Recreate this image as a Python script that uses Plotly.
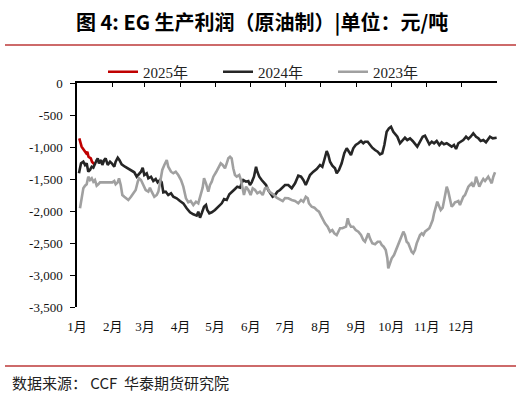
import plotly.graph_objects as go

# ---- data (x = day of year, y = 元/吨) ----
days_2025 = [2, 4, 6, 7, 8, 9, 10, 12, 13, 15, 16]
vals_2025 = [-864, -995, -1047, -1083, -1098, -1073, -1152, -1177, -1230, -1270, -1255]

days_2024 = [1.7, 3.5, 5.5, 7.0, 8.4, 9.8, 11.3, 12.8, 14.2, 15.6, 17.1, 18.0, 19.1, 20.9, 22.0, 23.7,
             24.9, 26.7, 28.7, 30.2, 32.4, 33.6, 35.4, 36.8, 38.8, 41.7, 44.6, 47.5, 49.8, 51.9, 53.9,
             55.6, 57.1, 58.5, 60.6, 62.0, 64.3, 66.3, 68.4, 70.1, 72.1, 73.6, 75.0, 77.1, 79.3, 81.7,
             83.7, 86.6, 89.5, 92.4, 95.3, 98.2, 101.1, 104.0, 105.4, 106.9, 108.4, 110.4, 112.1, 113.2,
             115.0, 117.1, 119.9, 122.8, 125.8, 127.8, 130.1, 132.4, 134.4, 137.3, 139.3, 141.7, 143.1,
             144.5, 146.9, 148.9, 150.3, 151.8, 153.8, 155.6, 156.7, 158.4, 160.5, 162.5, 164.3, 166.2,
             167.7, 170.0, 172.1, 174.1, 176.4, 178.8, 180.8, 183.6, 186.6, 189.5, 192.3, 194.7, 196.7,
             198.8, 200.5, 202.5, 205.4, 208.3, 211.2, 213.2, 214.9, 217.0, 218.4, 219.9, 221.9, 224.2,
             225.7, 227.7, 230.0, 232.3, 234.4, 236.4, 238.1, 240.1, 242.2, 244.5, 246.8, 248.8, 250.3,
             252.6, 254.6, 256.6, 259.0, 261.3, 263.3, 265.3, 267.1, 269.1, 271.1, 272.9, 274.9, 278.4,
             280.7, 283.1, 285.0, 287.0, 289.4, 291.7, 293.7, 295.7, 298.1, 300.4, 302.4, 304.4, 306.2,
             308.3, 310.3, 312.6, 314.9, 316.9, 318.9, 321.3, 323.5, 325.6, 327.6, 329.4, 331.4, 333.5,
             335.7, 338.1, 340.1, 342.1, 344.4, 346.8, 348.8, 350.8, 353.1, 355.4, 357.4, 358.9, 361.3,
             363.3, 364.7]
vals_2024 = [-1411, -1255, -1230, -1281, -1255, -1386, -1359, -1308, -1323, -1255, -1203, -1177, -1255,
             -1203, -1281, -1203, -1177, -1281, -1230, -1255, -1308, -1230, -1167, -1203, -1270, -1308,
             -1344, -1375, -1395, -1464, -1427, -1386, -1323, -1438, -1411, -1489, -1464, -1531, -1500,
             -1552, -1516, -1552, -1708, -1698, -1750, -1723, -1777, -1802, -1844, -1880, -1958, -2020,
             -2052, -2073, -2011, -2105, -2036, -1933, -1906, -1984, -2036, -2020, -1984, -1933, -1880,
             -1813, -1828, -1739, -1698, -1656, -1620, -1636, -1567, -1516, -1542, -1531, -1594, -1552,
             -1464, -1308, -1386, -1464, -1516, -1567, -1594, -1672, -1723, -1777, -1750, -1698, -1672,
             -1636, -1594, -1594, -1645, -1567, -1448, -1464, -1516, -1594, -1516, -1438, -1386, -1344,
             -1281, -1308, -1203, -1063, -1125, -1230, -1292, -1333, -1411, -1359, -1255, -1098, -1020,
             -1073, -1125, -1020, -969, -942, -906, -942, -917, -917, -969, -1011, -1047, -1073, -1114,
             -1098, -969, -761, -708, -683, -761, -839, -942, -891, -855, -891, -864, -906, -958, -995,
             -917, -839, -823, -891, -958, -917, -942, -906, -969, -927, -958, -942, -969, -995, -969,
             -1031, -942, -917, -891, -839, -875, -839, -786, -839, -864, -906, -891, -927, -875, -839,
             -864, -864, -855]

days_2023 = [2.6, 4.1, 5.5, 7.0, 8.4, 9.8, 11.3, 12.8, 14.2, 15.6, 17.1, 18.5, 20.0, 22.9, 25.8, 28.7,
             30.7, 32.4, 33.6, 35.4, 36.5, 38.0, 39.4, 41.1, 43.2, 44.6, 46.9, 48.9, 51.0, 52.8, 53.9,
             55.6, 57.6, 59.7, 62.0, 63.4, 64.9, 67.2, 69.3, 70.7, 72.1, 74.1, 75.9, 78.0, 79.3, 81.7,
             83.7, 85.8, 88.0, 90.4, 92.4, 93.9, 94.7, 96.7, 98.8, 101.1, 103.4, 105.4, 106.9, 109.2,
             110.4, 112.1, 114.1, 115.6, 117.1, 118.5, 120.8, 122.8, 124.9, 126.6, 128.6, 130.1, 131.5,
             133.0, 134.4, 135.8, 137.3, 138.8, 141.0, 142.5, 143.9, 145.1, 146.9, 148.9, 150.9, 152.7,
             154.7, 156.7, 159.0, 161.4, 163.4, 165.4, 167.1, 169.2, 171.2, 173.5, 176.4, 178.8, 180.8,
             183.6, 186.6, 189.5, 192.3, 194.7, 196.7, 198.8, 200.5, 201.6, 204.0, 206.3, 208.3, 210.3,
             212.0, 214.0, 215.5, 217.8, 219.9, 221.9, 223.6, 225.7, 227.1, 228.6, 230.6, 232.3, 233.8,
             235.3, 236.4, 238.1, 240.1, 242.2, 244.5, 246.8, 248.8, 250.3, 251.8, 253.2, 254.6, 256.6,
             259.0, 261.3, 263.3, 264.8, 266.5, 268.3, 269.7, 270.5, 272.0, 273.5, 275.5, 277.8, 280.1,
             282.2, 283.6, 285.0, 286.5, 287.9, 289.4, 290.8, 292.2, 293.7, 295.2, 296.6, 298.1, 299.6,
             301.0, 302.4, 304.4, 306.2, 307.4, 309.1, 310.3, 312.0, 313.1, 314.9, 316.1, 317.8, 318.9,
             320.4, 321.3, 322.7, 324.1, 325.6, 327.0, 328.5, 330.0, 331.4, 332.8, 334.3, 335.7, 337.2,
             338.7, 340.1, 341.5, 343.0, 344.4, 345.9, 346.8, 347.9, 349.6, 351.7, 353.1, 354.6, 356.0,
             357.4, 358.9, 360.4, 361.8, 363.3]
vals_2023 = [-1958, -1750, -1645, -1605, -1583, -1464, -1516, -1489, -1542, -1516, -1605, -1583, -1552,
             -1552, -1552, -1552, -1552, -1531, -1583, -1552, -1489, -1594, -1750, -1777, -1802, -1828,
             -1777, -1723, -1672, -1542, -1489, -1516, -1594, -1672, -1698, -1636, -1698, -1777, -1750,
             -1698, -1567, -1359, -1281, -1203, -1308, -1386, -1411, -1386, -1438, -1516, -1620, -1750,
             -1802, -1864, -1844, -1906, -1855, -1880, -1777, -1636, -1489, -1567, -1698, -1594, -1542,
             -1464, -1395, -1323, -1255, -1281, -1333, -1255, -1177, -1152, -1177, -1333, -1438, -1464,
             -1438, -1516, -1620, -1750, -1620, -1672, -1750, -1645, -1672, -1723, -1698, -1750, -1645,
             -1636, -1698, -1723, -1750, -1792, -1828, -1844, -1797, -1802, -1828, -1844, -1880, -1828,
             -1855, -1777, -1802, -1880, -1933, -1948, -1984, -2011, -2073, -2141, -2192, -2245, -2323,
             -2297, -2348, -2375, -2323, -2270, -2270, -2261, -2245, -2114, -2192, -2245, -2245, -2297,
             -2323, -2375, -2453, -2480, -2402, -2348, -2427, -2505, -2520, -2480, -2480, -2531, -2558,
             -2609, -2739, -2895, -2817, -2739, -2688, -2583, -2480, -2375, -2323, -2375, -2480, -2505,
             -2583, -2636, -2661, -2609, -2505, -2427, -2375, -2348, -2375, -2323, -2297, -2270, -2219,
             -2141, -2036, -1933, -1855, -1933, -1984, -1948, -1855, -1723, -1620, -1698, -1802, -1933,
             -1906, -1864, -1855, -1844, -1906, -1828, -1777, -1750, -1672, -1620, -1594, -1567, -1620,
             -1552, -1464, -1516, -1620, -1542, -1500, -1531, -1489, -1464, -1516, -1567, -1464, -1395]

month_starts = [0, 31, 59, 90, 120, 151, 181, 212, 243, 273, 304, 334]
month_labels = ["1月", "2月", "3月", "4月", "5月", "6月", "7月", "8月", "9月", "10月", "11月", "12月"]
month_bounds = month_starts + [365]
y_ticks = [0, -500, -1000, -1500, -2000, -2500, -3000, -3500]
y_labels = ["0", "-500", "-1,000", "-1,500", "-2,000", "-2,500", "-3,000", "-3,500"]

title_text = "图 4: EG 生产利润（原油制）|单位：元/吨"
source_text = "数据来源：&nbsp;CCF&nbsp;&nbsp;华泰期货研究院"

SERIF = "'Liberation Serif', 'Times New Roman', 'Noto Sans CJK SC', serif"
CJK = "'Noto Sans CJK SC', sans-serif"

fig = go.Figure()
fig.add_trace(go.Scatter(x=days_2025, y=vals_2025, mode="lines", name="2025年",
                         line=dict(color="#C00000", width=2.6)))
fig.add_trace(go.Scatter(x=days_2024, y=vals_2024, mode="lines", name="2024年",
                         line=dict(color="#262626", width=2.6)))
fig.add_trace(go.Scatter(x=days_2023, y=vals_2023, mode="lines", name="2023年",
                         line=dict(color="#A0A0A0", width=2.6), xaxis="x2"))

fig.update_layout(
    width=521, height=395,
    margin=dict(l=77, r=24, t=83, b=88, autoexpand=False),
    paper_bgcolor="white", plot_bgcolor="white",
    showlegend=True,
    legend=dict(orientation="h", x=(108 - 5 - 77) / 420, xanchor="left",
                y=(307 - 72) / 224, yanchor="middle",
                font=dict(family=SERIF, size=15, color="#222"),
                entrywidth=70, entrywidthmode="pixels",
                itemwidth=30, tracegroupgap=0, bgcolor="rgba(0,0,0,0)"),
    xaxis=dict(range=[0, 365], tickmode="array", tickvals=month_starts, ticktext=month_labels,
               showline=False, showgrid=False, zeroline=False, automargin=False,
               ticks="outside", ticklen=7, tickcolor="rgba(0,0,0,0)",
               tickfont=dict(family=SERIF, size=13, color="#111")),
    xaxis2=dict(range=[0, 365], overlaying="x", side="top", matches="x", automargin=False,
                tickmode="array", tickvals=month_bounds, showticklabels=False,
                showline=True, linecolor="#000", linewidth=1.5,
                ticks="inside", ticklen=4, tickcolor="#000", tickwidth=1.2,
                showgrid=False, zeroline=False),
    yaxis=dict(range=[-3500, 0], tickmode="array", tickvals=y_ticks, ticktext=y_labels,
               showline=True, linecolor="#000", linewidth=1.5, automargin=False,
               ticks="outside", ticklen=5, tickcolor="#000", tickwidth=1.2,
               ticklabelstandoff=5,
               showgrid=False, zeroline=False,
               tickfont=dict(family=SERIF, size=13, color="#111")),
)

# title, rules and source
fig.add_annotation(text="<b>" + title_text + "</b>", xref="paper", yref="paper",
                   x=(262 - 77) / 420, y=(307 - 21) / 224, xanchor="center", yanchor="middle",
                   showarrow=False, font=dict(family=CJK, size=20, color="#000"))
fig.add_shape(type="line", xref="paper", yref="paper",
              x0=(5 - 77) / 420, x1=(516 - 77) / 420,
              y0=(307 - 45) / 224, y1=(307 - 45) / 224,
              line=dict(color="#CD6A6A", width=2))
fig.add_shape(type="line", xref="paper", yref="paper",
              x0=(5 - 77) / 420, x1=(516 - 77) / 420,
              y0=(307 - 366) / 224, y1=(307 - 366) / 224,
              line=dict(color="#CD6A6A", width=2))
fig.add_annotation(text=source_text, xref="paper", yref="paper",
                   x=(10 - 77) / 420, y=(307 - 382) / 224, xanchor="left", yanchor="middle",
                   showarrow=False, font=dict(family=CJK, size=15, color="#222"))

fig.write_html("out.html", config={"displayModeBar": False},
               post_script="document.body.style.margin='0';document.body.style.padding='0';")
